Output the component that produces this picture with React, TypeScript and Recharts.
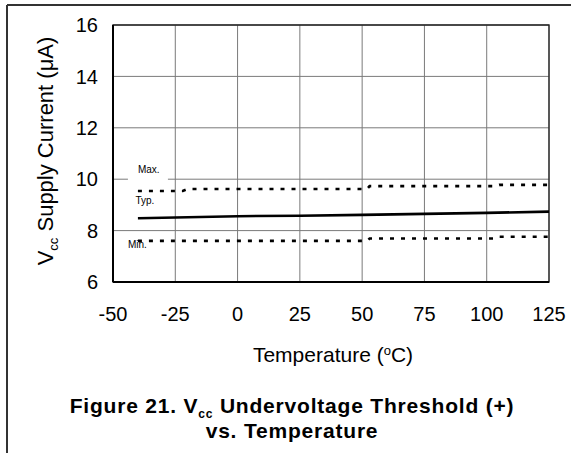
import React from "react";
import {
  LineChart,
  Line,
  XAxis,
  YAxis,
  CartesianGrid,
  ReferenceArea,
} from "recharts";

const FONT = "'Liberation Sans', Arial, Helvetica, sans-serif";

// Tick labels
const xTicks = [-50, -25, 0, 25, 50, 75, 100, 125];
const yTicks = [6, 8, 10, 12, 14, 16];

// Series (temperature °C, current µA)
const maxTemps = [-40, -22, -20, 52, 53, 103, 105, 125];
const maxVals = [9.54, 9.54, 9.62, 9.62, 9.73, 9.73, 9.78, 9.78];

const typTemps = [-40, 0, 25, 50, 75, 100, 125];
const typVals = [8.48, 8.56, 8.58, 8.61, 8.65, 8.69, 8.74];

const minTemps = [-40, 52, 53, 103, 105, 125];
const minVals = [7.6, 7.6, 7.69, 7.69, 7.76, 7.76];

// Annotation labels
const labelNames = ["Max.", "Typ.", "Min."];
const labelTemps = [-40, -41, -44];
const labelVals = [10.24, 9.04, 7.32];
const labelBackground = [true, false, false];

const toData = (xs: number[], ys: number[]) => xs.map((x, i) => ({ x, y: ys[i] }));
const maxData = toData(maxTemps, maxVals);
const typData = toData(typTemps, typVals);
const minData = toData(minTemps, minVals);
const labelData = labelNames.map((name, i) => ({
  x: labelTemps[i],
  y: labelVals[i],
  name,
  bg: labelBackground[i],
}));

const LabelDot = (props: any) => {
  const { cx, cy, payload } = props;
  if (cx == null || cy == null || !payload) return null;
  return (
    <g key={`lbl-${payload.name}`}>
      {payload.bg ? (
        <rect x={cx - 10} y={cy - 12} width={40} height={20} fill="#ffffff" stroke="none" />
      ) : null}
      <text x={cx} y={cy} fontSize={10} fill="#000" fontFamily={FONT}>
        {payload.name}
      </text>
    </g>
  );
};

export default function App() {
  return (
    <div style={{ position: "absolute", left: 0, top: 0, width: 571, height: 453, background: "#fff" }}>
      <LineChart
        width={571}
        height={453}
        margin={{ top: 25, right: 22, bottom: 141, left: 53 }}
        style={{ fontFamily: FONT }}
      >
        <CartesianGrid stroke="#7a7a7a" strokeWidth={1} />
        <XAxis
          type="number"
          dataKey="x"
          domain={[-50, 125]}
          ticks={xTicks}
          interval={0}
          tickLine={false}
          axisLine={{ stroke: "#000", strokeWidth: 2 }}
          height={30}
          tickMargin={19}
          tick={{ fontSize: 20, fill: "#000", fontFamily: FONT }}
          allowDuplicatedCategory={false}
        />
        <YAxis
          type="number"
          domain={[6, 16]}
          ticks={yTicks}
          interval={0}
          tickLine={false}
          axisLine={{ stroke: "#000", strokeWidth: 2 }}
          width={60}
          tickMargin={9}
          tick={{ fontSize: 20, fill: "#000", fontFamily: FONT }}
        />
        <ReferenceArea x1={-50} x2={125} y1={6} y2={16} fill="none" stroke="#222" strokeWidth={1.3} />
        <Line
          data={labelData}
          dataKey="y"
          type="linear"
          stroke="none"
          dot={LabelDot}
          activeDot={false}
          isAnimationActive={false}
        />
        <Line
          data={maxData}
          dataKey="y"
          type="linear"
          stroke="#000"
          strokeWidth={2.6}
          strokeDasharray="4 7"
          dot={false}
          isAnimationActive={false}
        />
        <Line
          data={typData}
          dataKey="y"
          type="linear"
          stroke="#000"
          strokeWidth={2.6}
          dot={false}
          isAnimationActive={false}
        />
        <Line
          data={minData}
          dataKey="y"
          type="linear"
          stroke="#000"
          strokeWidth={2.6}
          strokeDasharray="4 7"
          dot={false}
          isAnimationActive={false}
        />
      </LineChart>
      <svg
        width={571}
        height={453}
        style={{ position: "absolute", left: 0, top: 0, pointerEvents: "none" }}
        fontFamily={FONT}
      >
        <line x1={7} y1={5} x2={7} y2={453} stroke="#333" strokeWidth={2} />
        <line x1={7} y1={5} x2={571} y2={5} stroke="#333" strokeWidth={2} />
        <text transform="translate(53,151) rotate(-90)" textAnchor="middle" fontSize={22} fill="#000">
          V
          <tspan fontSize={13} dy={5}>cc</tspan>
          <tspan dy={-5}> Supply Current (μA)</tspan>
        </text>
        <text x={333} y={362} textAnchor="middle" fontSize={21} fill="#000">
          Temperature (
          <tspan fontSize={13} dy={-7}>o</tspan>
          <tspan dy={7}>C)</tspan>
        </text>
        <text x={292} y={413} textAnchor="middle" fontSize={21} fontWeight="bold" fill="#000" letterSpacing={0.8}>
          Figure 21. V
          <tspan fontSize={12} dy={5}>cc</tspan>
          <tspan dy={-5}> Undervoltage Threshold (+)</tspan>
        </text>
        <text x={292} y={438} textAnchor="middle" fontSize={21} fontWeight="bold" fill="#000" letterSpacing={0.8}>
          vs. Temperature
        </text>
      </svg>
    </div>
  );
}
